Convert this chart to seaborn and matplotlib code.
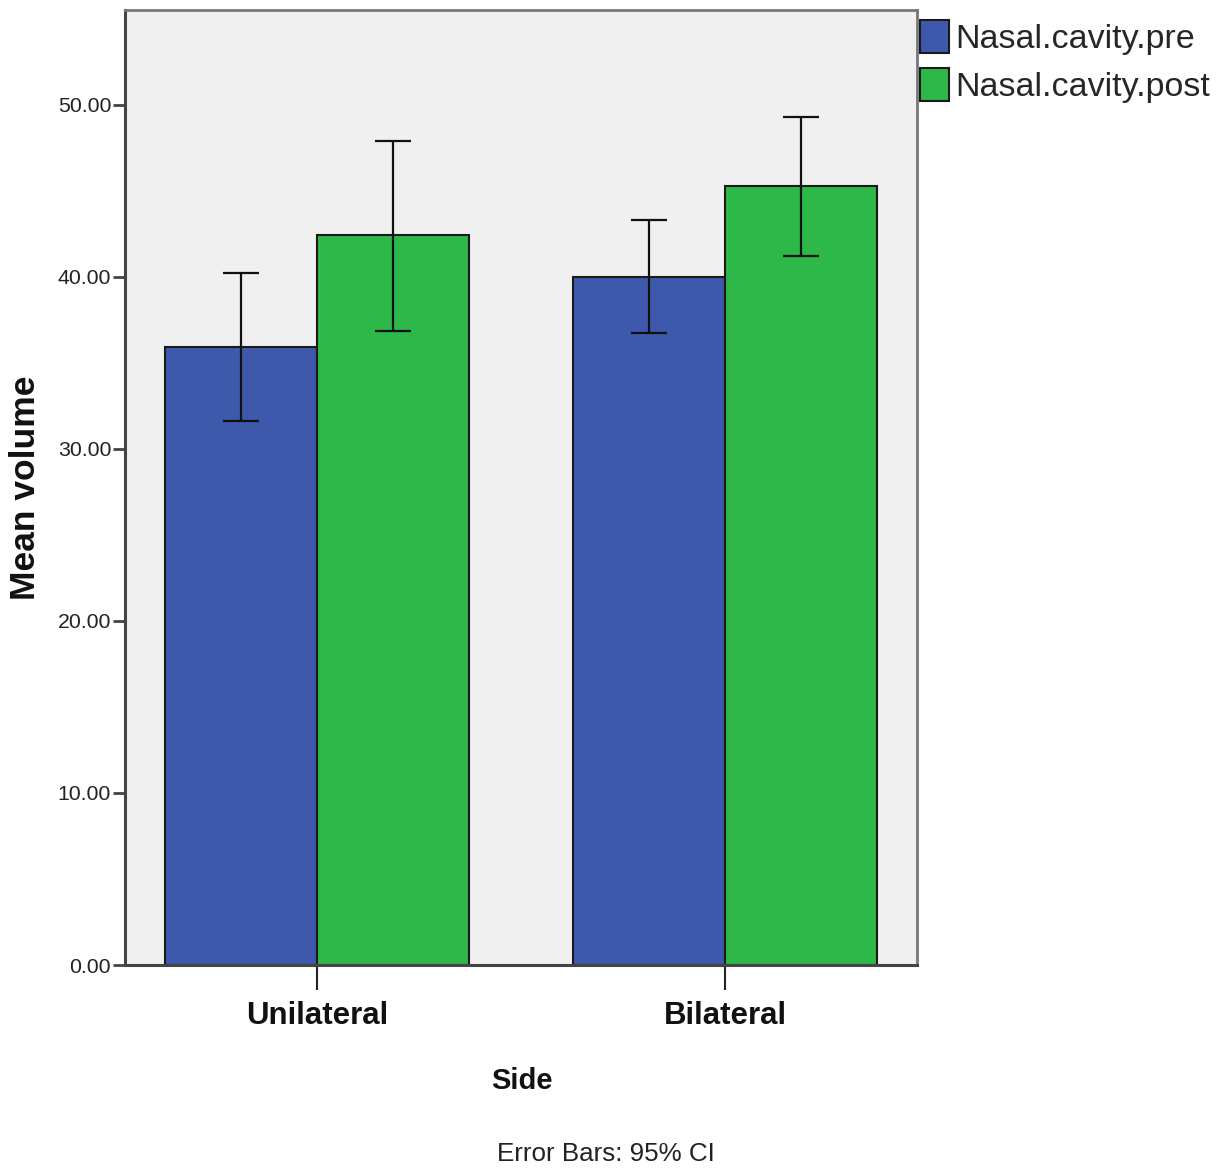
import matplotlib
matplotlib.use("Agg")
import matplotlib.pyplot as plt
import seaborn as sns
import pandas as pd
from matplotlib.patches import Patch

# Mean nasal cavity volume by side, before and after, with 95% CI bounds
sides = ["Unilateral", "Bilateral"]
series = ["Nasal.cavity.pre", "Nasal.cavity.post"]
pre_mean = [35.9, 40.0]
post_mean = [42.4, 45.3]
pre_lo = [31.6, 36.75]
pre_hi = [40.2, 43.3]
post_lo = [36.85, 41.2]
post_hi = [47.9, 49.3]
yticks = [0, 10, 20, 30, 40, 50]

colors = ["#3E58AC", "#2EB84A"]

df = pd.DataFrame({
    "Side": sides * 2,
    "Series": [series[0]] * 2 + [series[1]] * 2,
    "Mean": pre_mean + post_mean,
})
lows = [pre_lo, post_lo]
highs = [pre_hi, post_hi]

sns.set_style("white")
plt.rcParams["font.family"] = ["Liberation Sans", "DejaVu Sans"]

fig = plt.figure(figsize=(12.3, 11.68), dpi=100)
ax = fig.add_axes([0.1016, 0.1738, 0.6439, 0.8176])
ax.set_facecolor("#F0F0F0")

sns.barplot(data=df, x="Side", y="Mean", hue="Series", order=sides,
            hue_order=series, palette=colors, width=0.743,
            edgecolor="#1a1a1a", linewidth=1.5, errorbar=None,
            saturation=1, ax=ax, legend=False)

# 95% CI whiskers centred on each bar
for cont, lo, hi, means in zip(ax.containers, lows, highs, [pre_mean, post_mean]):
    for bar, l, h, m in zip(cont, lo, hi, means):
        xc = bar.get_x() + bar.get_width() / 2
        ax.errorbar([xc], [m], yerr=[[m - l], [h - m]], fmt="none",
                    ecolor="#111111", elinewidth=1.6, capsize=13,
                    capthick=1.6, zorder=5)

ax.set_xlim(-0.47, 1.47)
ax.set_ylim(0, 55.5)
ax.set_yticks(yticks)
ax.set_yticklabels([f"{v:.2f}" for v in yticks], fontsize=15.3,
                   color="#222222")
ax.set_xticks([0, 1])
ax.set_xticklabels(sides, fontsize=22.5, fontweight="bold", color="#111111")
ax.tick_params(axis="y", direction="out", length=9, width=2,
               color="#444444", pad=1, left=True)
ax.tick_params(axis="x", direction="out", length=18, width=1.5,
               color="#222222", pad=8, bottom=True)

for side in ["left", "bottom"]:
    ax.spines[side].set_color("#444444")
    ax.spines[side].set_linewidth(2.2)
for side in ["top", "right"]:
    ax.spines[side].set_color("#777777")
    ax.spines[side].set_linewidth(2)

ax.set_xlabel("Side", fontsize=21, fontweight="bold", color="#111111")
ax.xaxis.set_label_coords(0.5015, -0.1063)
ax.set_ylabel("Mean volume", fontsize=25.5, fontweight="bold",
              color="#111111")
ax.yaxis.set_label_coords(-0.105, 0.5)

handles = [Patch(facecolor=c, edgecolor="#1a1a1a", linewidth=1.5)
           for c in colors]
leg = fig.legend(handles, series, loc="upper left",
                 bbox_to_anchor=(0.748, 0.983), frameon=False,
                 prop={"size": 24.5},
                 handlelength=0.85, handleheight=1.1, handletextpad=0.18,
                 labelspacing=0.4, borderaxespad=0, borderpad=0)

fig.text(0.4925, 0.002, "Error Bars: 95% CI", fontsize=18.7,
         color="#222222", ha="center", va="bottom")

fig.savefig("out.png", dpi=100, facecolor="white")
